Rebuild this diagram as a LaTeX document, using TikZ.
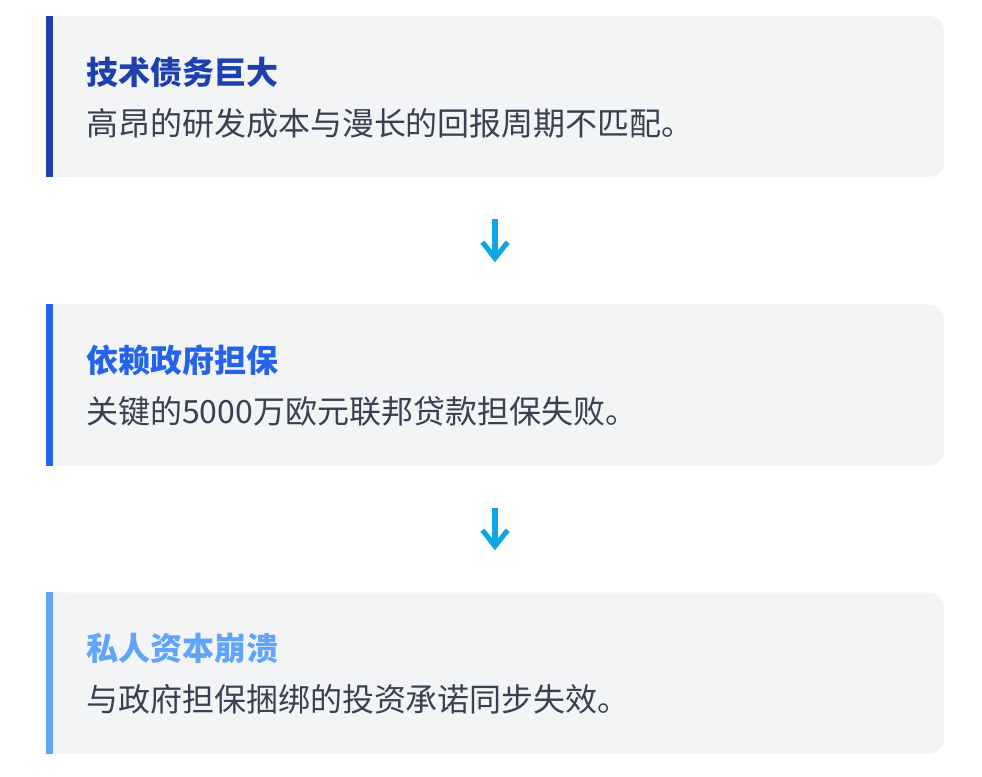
\documentclass[tikz,border=0pt]{standalone}
\usepackage{fontspec}
\setmainfont{Noto Sans CJK SC}
\definecolor{ddCard}{HTML}{F3F4F6}
\definecolor{ddText}{HTML}{374151}
\definecolor{ddDeep}{HTML}{1E40AF}
\definecolor{ddMid}{HTML}{2563EB}
\definecolor{ddLight}{HTML}{60A5FA}
\definecolor{ddArrow}{HTML}{0EA5E9}
\usetikzlibrary{calc,positioning,arrows.meta}

\tikzset{
  card/.style={fill=ddCard, rounded corners=11.25pt, minimum width=673.5pt,
    minimum height=120.75pt, inner sep=0pt},
  cardtitle/.style={anchor=west, inner sep=0pt, font=\fontsize{24pt}{28pt}\selectfont\bfseries},
  cardbody/.style={anchor=west, inner sep=0pt, text=ddText, font=\fontsize{24pt}{28pt}\selectfont},
  flow/.style={draw=ddArrow, line width=3.8pt, shorten <=31.5pt, shorten >=31.5pt,
    -{Straight Barb[length=12pt, width=19pt, line width=3.8pt]}}
}

\begin{document}
\begin{tikzpicture}[x=0.75pt, y=0.75pt]
  \useasboundingbox (0,0) rectangle (982,-777);

  % debt
  \node[card] (debt) at (495,-96.5) {};
  \fill[ddCard] ([xshift=5pt]debt.north west) rectangle ([xshift=15pt]debt.south west);
  \fill[ddDeep] (debt.north west) rectangle ([xshift=5.25pt]debt.south west);
  \node[cardtitle, text=ddDeep] (debtT) at ([xshift=30pt, yshift=18.4pt]debt.west) {技术债务巨大};
  \node[cardbody] (debtB) at ([xshift=30pt, yshift=-19.9pt]debt.west) {高昂的研发成本与漫长的回报周期不匹配。};

  % guarantee
  \node[card] (guar) at (495,-385) {};
  \fill[ddCard] ([xshift=5pt]guar.north west) rectangle ([xshift=15pt]guar.south west);
  \fill[ddMid] (guar.north west) rectangle ([xshift=5.25pt]guar.south west);
  \node[cardtitle, text=ddMid] (guarT) at ([xshift=30pt, yshift=18.4pt]guar.west) {依赖政府担保};
  \node[cardbody] (guarB) at ([xshift=30pt, yshift=-19.9pt]guar.west) {关键的5000万欧元联邦贷款担保失败。};

  % private capital
  \node[card] (priv) at (495,-673) {};
  \fill[ddCard] ([xshift=5pt]priv.north west) rectangle ([xshift=15pt]priv.south west);
  \fill[ddLight] (priv.north west) rectangle ([xshift=5.25pt]priv.south west);
  \node[cardtitle, text=ddLight] (privT) at ([xshift=30pt, yshift=18.4pt]priv.west) {私人资本崩溃};
  \node[cardbody] (privB) at ([xshift=30pt, yshift=-19.9pt]priv.west) {与政府担保捆绑的投资承诺同步失效。};

  % arrows
  \draw[flow] (debt.south) -- (guar.north);
  \draw[flow] (guar.south) -- (priv.north);
\end{tikzpicture}
\end{document}
